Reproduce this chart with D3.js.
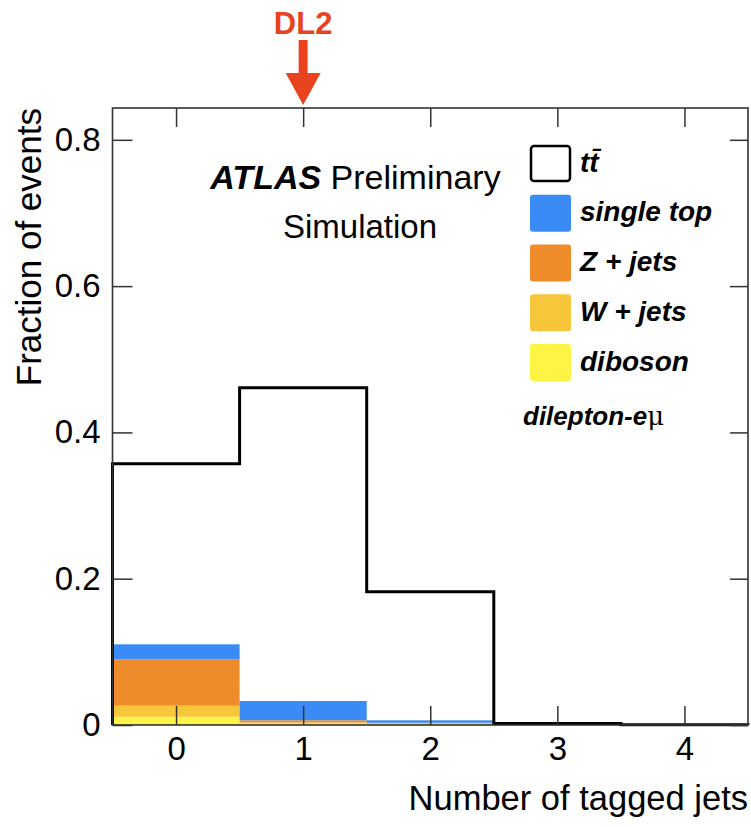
<!DOCTYPE html>
<html>
<head>
<meta charset="utf-8">
<script src="https://cdn.jsdelivr.net/npm/d3@7"></script>
<style>
  html, body { margin: 0; padding: 0; background: #fff; }
  svg { display: block; }
  text { font-family: "Liberation Sans", Arial, Helvetica, sans-serif; }
</style>
</head>
<body>
<svg id="chart" width="751" height="827"></svg>
<script>
// Number of b-tagged jets per bin
const bins = [0, 1, 2, 3, 4];
const yTicks = [0, 0.2, 0.4, 0.6, 0.8];

// ttbar (drawn as an outline histogram)
const ttbar = [0.357, 0.461, 0.182, 0.002, 0.0002];

// background processes (stacked, bottom to top)
const diboson   = [0.0113, 0.0020, 0.0015, 0.0, 0.0];
const wjets     = [0.0151, 0.0015, 0.0008, 0.0, 0.0];
const zjets     = [0.0634, 0.0030, 0.0008, 0.0, 0.0];
const singleTop = [0.0205, 0.0263, 0.0033, 0.0003, 0.0];

const stackKeys   = ["diboson", "wjets", "zjets", "singleTop"];
const stackColors = { diboson: "#FEF445", wjets: "#F7C63A", zjets: "#EE8C2C", singleTop: "#3A8BF5" };
const legendItems = [
  { key: "ttbar", label: "tt\u0304" },
  { key: "singleTop", label: "single top" },
  { key: "zjets", label: "Z + jets" },
  { key: "wjets", label: "W + jets" },
  { key: "diboson", label: "diboson" }
];

const svg = d3.select("#chart");
const margin = { left: 112.5, right: 3, top: 108, bottom: 102 };
const W = 751, H = 827;
const x = d3.scaleLinear().domain([-0.5, 4.5]).range([margin.left, W - margin.right]);
const y = d3.scaleLinear().domain([0, 0.8435]).range([H - margin.bottom, margin.top]);

const table = bins.map((b, i) => ({
  bin: b, diboson: diboson[i], wjets: wjets[i], zjets: zjets[i], singleTop: singleTop[i]
}));
const stacked = d3.stack().keys(stackKeys)(table);

// stacked backgrounds
const gStack = svg.append("g");
stacked.forEach(layer => {
  gStack.selectAll(null).data(layer).enter().append("rect")
    .attr("x", d => x(d.data.bin - 0.5))
    .attr("width", d => x(d.data.bin + 0.5) - x(d.data.bin - 0.5))
    .attr("y", d => y(d[1]))
    .attr("height", d => Math.max(0, y(d[0]) - y(d[1])))
    .attr("fill", stackColors[layer.key]);
});

// ttbar outline
const pts = [[x(-0.5), y(0)]];
bins.forEach((b, i) => {
  pts.push([x(b - 0.5), y(ttbar[i])]);
  pts.push([x(b + 0.5), y(ttbar[i])]);
});
pts.push([x(4.5), y(0)]);
svg.append("path")
  .attr("d", d3.line()(pts))
  .attr("fill", "none")
  .attr("stroke", "#000")
  .attr("stroke-width", 3)
  .attr("stroke-linejoin", "miter");

// axes with inward ticks on all four sides
const axisColor = "#333";
const fmt = v => v === 0 ? "0" : d3.format(".1f")(v);

const gx = svg.append("g").attr("transform", `translate(0,${y(0)})`)
  .call(d3.axisBottom(x).tickValues(bins).tickSize(-19).tickSizeOuter(0).tickPadding(12).tickFormat(d3.format("d")));
const gy = svg.append("g").attr("transform", `translate(${x(-0.5)},0)`)
  .call(d3.axisLeft(y).tickValues(yTicks).tickSize(-20).tickSizeOuter(0).tickPadding(12).tickFormat(fmt));
const gt = svg.append("g").attr("transform", `translate(0,${y.range()[1]})`)
  .call(d3.axisTop(x).tickValues(bins).tickSize(-19).tickSizeOuter(0).tickFormat(""));
const gr = svg.append("g").attr("transform", `translate(${x(4.5)},0)`)
  .call(d3.axisRight(y).tickValues(yTicks).tickSize(-18).tickSizeOuter(0).tickFormat(""));

[gx, gy, gt, gr].forEach(g => {
  g.select(".domain").remove();
  g.selectAll(".tick line").attr("stroke", axisColor).attr("stroke-width", 1.5);
  g.selectAll(".tick text").attr("fill", "#000").attr("font-size", 33)
    .attr("font-family", "'Liberation Sans', Arial, Helvetica, sans-serif");
});

svg.append("rect")
  .attr("x", x(-0.5)).attr("y", y.range()[1])
  .attr("width", x(4.5) - x(-0.5)).attr("height", y(0) - y.range()[1])
  .attr("fill", "none").attr("stroke", axisColor).attr("stroke-width", 1.6);

// axis titles
svg.append("text")
  .attr("transform", `translate(41,${y.range()[1]}) rotate(-90)`)
  .attr("text-anchor", "end")
  .attr("font-size", 35)
  .text("Fraction of events");

svg.append("text")
  .attr("x", x(4.5)).attr("y", 810)
  .attr("text-anchor", "end")
  .attr("font-size", 34.5)
  .text("Number of tagged jets");

// ATLAS label
const atlas = svg.append("text").attr("x", 355.5).attr("y", 189)
  .attr("text-anchor", "middle").attr("font-size", 34);
atlas.append("tspan").attr("font-weight", "bold").attr("font-style", "italic").text("ATLAS");
atlas.append("tspan").text(" Preliminary");
svg.append("text").attr("x", 360).attr("y", 238)
  .attr("text-anchor", "middle").attr("font-size", 33).text("Simulation");

// legend
const legX = 530, legY0 = 163.5, legStep = 49.75;
const leg = svg.append("g");
legendItems.forEach((it, i) => {
  const cy = legY0 + i * legStep;
  leg.append("rect")
    .attr("x", it.key === "ttbar" ? legX + 1 : legX)
    .attr("y", it.key === "ttbar" ? cy - 17.5 : cy - 18.5)
    .attr("width", it.key === "ttbar" ? 39 : 41)
    .attr("height", it.key === "ttbar" ? 35 : 37)
    .attr("rx", 3)
    .attr("fill", it.key === "ttbar" ? "#fff" : stackColors[it.key])
    .attr("stroke", it.key === "ttbar" ? "#000" : "none")
    .attr("stroke-width", 2.5);
  leg.append("text")
    .attr("x", 580).attr("y", cy + 8)
    .attr("font-size", 28).attr("font-weight", "bold").attr("font-style", "italic")
    .text(it.label);
});

const chan = svg.append("text").attr("x", 523).attr("y", 425)
  .attr("font-size", 26).attr("font-weight", "bold").attr("font-style", "italic");
chan.append("tspan").text("dilepton-e");
chan.append("tspan").attr("font-weight", "normal").attr("font-style", "normal")
  .attr("font-family", "'DejaVu Serif', serif").text("\u03bc");

// DL2 marker above the 1-tag bin
const red = "#E8421E";
const ax = x(1);
svg.append("text").attr("x", ax).attr("y", 34)
  .attr("text-anchor", "middle").attr("font-size", 31).attr("font-weight", "bold")
  .attr("fill", red).text("DL2");
svg.append("path")
  .attr("d", d3.line()([
    [ax - 4.5, 40], [ax + 4.5, 40], [ax + 4.5, 73], [ax + 17.5, 73],
    [ax, 105], [ax - 17.5, 73], [ax - 4.5, 73]
  ]) + "Z")
  .attr("fill", red);
</script>
</body>
</html>
